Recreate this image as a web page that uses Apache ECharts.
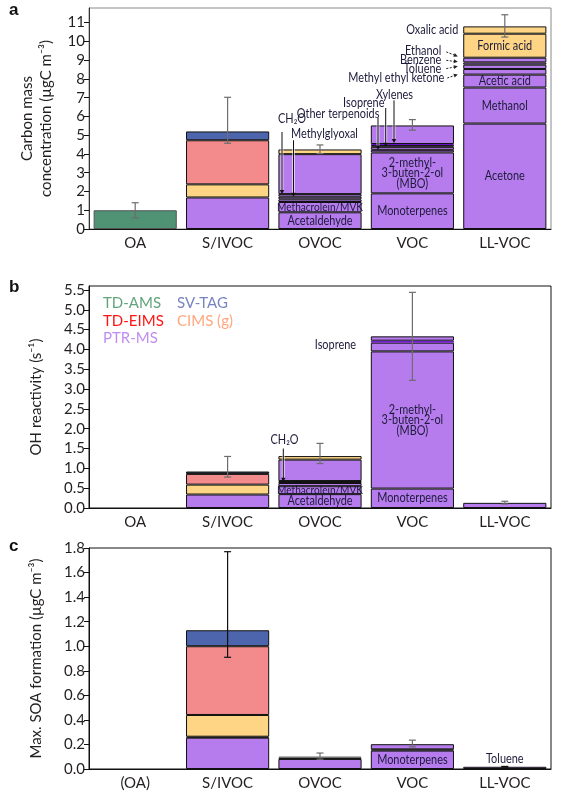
<!DOCTYPE html>
<html><head><meta charset="utf-8">
<script src="https://cdn.jsdelivr.net/npm/echarts@6/dist/echarts.min.js"></script>
<style>html,body{margin:0;padding:0;background:#fff}#c{width:561px;height:796px}</style>
</head><body><div id="c"></div>
<script>
// ---------- categories & ticks ----------
const categories  = ['OA','S/IVOC','OVOC','VOC','LL-VOC'];
const categoriesC = ['(OA)','S/IVOC','OVOC','VOC','LL-VOC'];
const ticksA = [0,1,2,3,4,5,6,7,8,9,10,11];
const ticksB = [0,0.5,1,1.5,2,2.5,3,3.5,4,4.5,5,5.5];
const ticksC = [0,0.2,0.4,0.6,0.8,1.0,1.2,1.4,1.6,1.8];

// ---------- panel a : carbon mass concentration (segment heights, bottom -> top) ----------
const a_OA     = [1.0];
const a_OA_src = ['AMS'];
const a_OA_lbl = [''];
const a_SIVOC     = [1.68, 0.70, 2.35, 0.47];
const a_SIVOC_src = ['PTR','CIMS','EIMS','TAG'];
const a_SIVOC_lbl = ['','','',''];
const a_OVOC     = [0.89, 0.55, 0.14, 0.14, 0.14, 2.13, 0.25];
const a_OVOC_src = ['PTR','PTR','PTR','PTR','PTR','PTR','CIMS'];
const a_OVOC_lbl = ['Acetaldehyde','Methacrolein/MVK','','','','',''];
const a_VOC     = [1.90, 2.18, 0.14, 0.16, 0.10, 0.05, 0.99];
const a_VOC_src = ['PTR','PTR','PTR','PTR','PTR','DARK','PTR'];
const a_VOC_lbl = ['Monoterpenes','2-methyl-\n3-buten-2-ol\n(MBO)','','','','',''];
const a_LLVOC     = [5.62, 1.92, 0.69, 0.30, 0.23, 0.12, 0.25, 1.28, 0.39];
const a_LLVOC_src = ['PTR','PTR','PTR','PTR','PTR','PTR','PTR','CIMS','CIMS'];
const a_LLVOC_lbl = ['Acetone','Methanol','Acetic acid','','','','','Formic acid',''];
const a_errLow  = [0.60, 4.57, 4.02, 5.27, 10.23];
const a_errHigh = [1.40, 7.02, 4.48, 5.83, 11.42];

// ---------- panel b : OH reactivity ----------
const b_OA     = [];
const b_OA_src = [];
const b_OA_lbl = [];
const b_SIVOC     = [0.34, 0.25, 0.27, 0.06];
const b_SIVOC_src = ['PTR','CIMS','EIMS','TAGD'];
const b_SIVOC_lbl = ['','','',''];
const b_OVOC     = [0.35, 0.20, 0.08, 0.05, 0.54, 0.09];
const b_OVOC_src = ['PTR','PTR','PTR','BLK','PTR','CIMS'];
const b_OVOC_lbl = ['Acetaldehyde','Methacrolein/MVK','','','',''];
const b_VOC     = [0.49, 3.46, 0.22, 0.05, 0.11];
const b_VOC_src = ['PTR','PTR','PTR','DARK','PTR'];
const b_VOC_lbl = ['Monoterpenes','2-methyl-\n3-buten-2-ol\n(MBO)','','',''];
const b_LLVOC     = [0.13];
const b_LLVOC_src = ['PTR'];
const b_LLVOC_lbl = [''];
const b_errLow  = [null, 0.78, 1.12, 3.22, 0.10];
const b_errHigh = [null, 1.30, 1.63, 5.44, 0.17];

// ---------- panel c : max SOA formation ----------
const c_OA     = [];
const c_OA_src = [];
const c_OA_lbl = [];
const c_SIVOC     = [0.255, 0.008, 0.177, 0.56, 0.13];
const c_SIVOC_src = ['PTR','BLK','CIMS','EIMS','TAG'];
const c_SIVOC_lbl = ['','','','',''];
const c_OVOC     = [0.082, 0.010, 0.008];
const c_OVOC_src = ['PTR','CIMS','GRAY'];
const c_OVOC_lbl = ['','',''];
const c_VOC     = [0.150, 0.010, 0.042];
const c_VOC_src = ['PTR','BLK','PTR'];
const c_VOC_lbl = ['Monoterpenes','',''];
const c_LLVOC     = [0.018];
const c_LLVOC_src = ['PTR'];
const c_LLVOC_lbl = [''];
const c_errLow  = [null, 0.91, 0.08, 0.18, 0.016];
const c_errHigh = [null, 1.77, 0.13, 0.235, 0.021];

// ---------- styling ----------
const FONT = 'Lato';
const TXT = '#231f20';
const LBL = '#1d1b3a';
const NARROW = 0.84;   // horizontal condensing of annotation text
const COLORS = {AMS:'#4f9374', TAG:'#4c65ac', TAGD:'#3a3f55', EIMS:'#f38b8d', CIMS:'#fdd585', PTR:'#b67cee',
                DARK:'#7a1ad6', BLK:'#111111', GRAY:'#6f6f6f'};
const BORDER = {AMS:'#555', DARK:'#6a10c8', GRAY:'#6f6f6f'};

const panels = [
  {vals:[a_OA,a_SIVOC,a_OVOC,a_VOC,a_LLVOC], src:[a_OA_src,a_SIVOC_src,a_OVOC_src,a_VOC_src,a_LLVOC_src],
   lbl:[a_OA_lbl,a_SIVOC_lbl,a_OVOC_lbl,a_VOC_lbl,a_LLVOC_lbl], lo:a_errLow, hi:a_errHigh,
   errColor:['#6d6d6d','#6d6d6d','#6d6d6d','#6d6d6d','#6d6d6d']},
  {vals:[b_OA,b_SIVOC,b_OVOC,b_VOC,b_LLVOC], src:[b_OA_src,b_SIVOC_src,b_OVOC_src,b_VOC_src,b_LLVOC_src],
   lbl:[b_OA_lbl,b_SIVOC_lbl,b_OVOC_lbl,b_VOC_lbl,b_LLVOC_lbl], lo:b_errLow, hi:b_errHigh,
   errColor:['#6d6d6d','#6d6d6d','#6d6d6d','#6d6d6d','#6d6d6d']},
  {vals:[c_OA,c_SIVOC,c_OVOC,c_VOC,c_LLVOC], src:[c_OA_src,c_SIVOC_src,c_OVOC_src,c_VOC_src,c_LLVOC_src],
   lbl:[c_OA_lbl,c_SIVOC_lbl,c_OVOC_lbl,c_VOC_lbl,c_LLVOC_lbl], lo:c_errLow, hi:c_errHigh,
   errColor:['#111','#111','#6d6d6d','#6d6d6d','#111']}
];

// annotations (text anchored to data values; dx = pixel offset from category centre)
const annA = [
  {cat:2, y:5.85, dx:-42, align:'left',  text:'CH₂O', from:5.17, tip:1.86, adx:-38},
  {cat:2, y:5.10, dx:-29, align:'left',  text:'Methylglyoxal', from:4.73, tip:1.72, adx:-26.5},
  {cat:3, y:6.15, dx:-33, align:'right', text:'Other terpenoids', from:5.94, tip:4.22, adx:-34.4},
  {cat:3, y:6.72, dx:-28, align:'right', text:'Isoprene', from:6.45, tip:4.38, adx:-26.7},
  {cat:3, y:7.16, dx:-36.5, align:'left', text:'Xylenes', from:6.86, tip:4.59, adx:-18.4},
  {cat:4, y:10.64, dx:-46.5, align:'right', text:'Oxalic acid'},
  {cat:4, y:9.48, dx:-63.5, align:'right', text:'Ethanol', dash:[-58.5,9.44,-47,9.20]},
  {cat:4, y:9.03, dx:-63.5, align:'right', text:'Benzene', dash:[-58.5,8.99,-47,8.91]},
  {cat:4, y:8.56, dx:-63.5, align:'right', text:'Toluene', dash:[-58.5,8.55,-47,8.67]},
  {cat:4, y:8.07, dx:-60.5, align:'right', text:'Methyl ethyl ketone', dash:[-57.5,8.05,-47,8.24]}
];
const annB = [
  {cat:2, y:1.71, dx:-49.5, align:'left', text:'CH₂O', from:1.50, tip:0.66, adx:-36.7},
  {cat:3, y:4.11, dx:-77, align:'center', text:'Isoprene'}
];
const annC = [
  {cat:4, y:0.082, dx:0, align:'center', text:'Toluene'}
];
const anns = [annA, annB, annC];

// in-bar labels: centred on their segment (computed from the segment values)
panels.forEach((P, p) => {
  P.vals.forEach((v, i) => {
    let base = 0;
    v.forEach((h, k) => {
      const t = P.lbl[i][k];
      if (t) anns[p].push({cat:i, y: base + h/2, dx:0, align:'center', text:t,
                           size: t === 'Methacrolein/MVK' ? 12 : 13, lh:10.5});
      base += h;
    });
  });
});

// ---------- grids & axes ----------
const grids = [
  {left:89, right:10, top:8,   height:221, show:true, borderColor:'#8a8a8a', borderWidth:1},
  {left:89, right:10, top:286, height:222, show:true, borderColor:'#111', borderWidth:1},
  {left:89, right:10, top:548, height:221, show:true, borderColor:'#111', borderWidth:1}
];
const yMax = [11.78, 5.6, 1.8];
const yTicks = [ticksA, ticksB, ticksC];
const yNames = ['Carbon mass\nconcentration (µgC m⁻³)', 'OH reactivity (s⁻¹)', 'Max. SOA formation (µgC m⁻³)'];
const yGaps = [33, 43, 43];
const yFmt = [v=>String(v), v=>v.toFixed(1), v=>v.toFixed(1)];

const xAxes = [0,1,2].map(p => ({
  type:'category', gridIndex:p, data: p===2 ? categoriesC : categories,
  axisLine:{show:true, lineStyle:{color:'#111', width:1}}, axisTick:{show:false},
  axisLabel:{color:TXT, fontFamily:FONT, fontSize:15, margin:7}
}));
const yAxes = [0,1,2].map(p => ({
  type:'value', gridIndex:p, min:0, max:yMax[p],
  name:yNames[p], nameLocation:'middle', nameGap:yGaps[p], nameRotate:90,
  nameTextStyle:{color:TXT, fontFamily:FONT, fontSize:15, lineHeight:19},
  splitLine:{show:false},
  axisLine:{show:true, lineStyle:{color: p===0 ? '#333' : '#111', width:1}},
  axisTick:{show:true, length:5, lineStyle:{color:'#111'}, customValues:yTicks[p]},
  axisLabel:{color:TXT, fontFamily:FONT, fontSize:15, margin:4, customValues:yTicks[p], formatter:yFmt[p]}
}));

// ---------- series ----------
const series = [];
panels.forEach((P, p) => {
  const K = Math.max(...P.vals.map(v => v.length));
  for (let k = 0; k < K; k++) {
    series.push({
      type:'bar', xAxisIndex:p, yAxisIndex:p, stack:'s'+p, barWidth:'90%',
      animation:false,
      data: P.vals.map((v, i) => {
        if (k >= v.length) return '-';
        const src = P.src[i][k];
        return {
          value: v[k],
          itemStyle:{color:COLORS[src], borderColor: BORDER[src] || '#111', borderWidth:1}
        };
      })
    });
  }
  // error bars
  series.push({
    type:'custom', xAxisIndex:p, yAxisIndex:p, z:5, animation:false, silent:true,
    data: P.lo.map((l, i) => l == null ? null : [i, l, P.hi[i]]).filter(d => d),
    renderItem(params, api) {
      const i = api.value(0);
      const a = api.coord([i, api.value(1)]), b = api.coord([i, api.value(2)]);
      const col = P.errColor[i];
      const st = {stroke:col, lineWidth:1.2};
      return {type:'group', children:[
        {type:'line', shape:{x1:a[0], y1:a[1], x2:b[0], y2:b[1]}, style:st},
        {type:'line', shape:{x1:a[0]-3.5, y1:a[1], x2:a[0]+3.5, y2:a[1]}, style:st},
        {type:'line', shape:{x1:b[0]-3.5, y1:b[1], x2:b[0]+3.5, y2:b[1]}, style:st}
      ]};
    }
  });
  // annotations & segment labels
  const list = anns[p];
  series.push({
    type:'custom', xAxisIndex:p, yAxisIndex:p, z:10, animation:false, silent:true, clip:false,
    data: list.map(a => [a.cat, a.y]),
    renderItem(params, api) {
      const a = list[params.dataIndex];
      const c = api.coord([a.cat, a.y]);
      const ch = [{type:'text', x:c[0] + a.dx, y:c[1], scaleX:NARROW,
        style:{text:a.text, fill:LBL, fontFamily:FONT, fontSize:a.size || 13, lineHeight:a.lh || 14,
               align:a.align, verticalAlign:'middle'}}];
      if (a.tip != null) {
        const t = api.coord([a.cat, a.from]), e = api.coord([a.cat, a.tip]);
        const x = t[0] + a.adx;
        ch.push({type:'line', shape:{x1:x, y1:t[1], x2:x, y2:e[1]-3}, style:{stroke:'#fff', lineWidth:3, opacity:0.6}});
        ch.push({type:'line', shape:{x1:x, y1:t[1], x2:x, y2:e[1]-3}, style:{stroke:'#111', lineWidth:1}});
        ch.push({type:'polygon', shape:{points:[[x-2.2, e[1]-4], [x+2.2, e[1]-4], [x, e[1]]]}, style:{fill:'#111'}});
      }
      if (a.dash) {
        const s = api.coord([a.cat, a.dash[1]]), e = api.coord([a.cat, a.dash[3]]);
        const x1 = c[0] + a.dash[0], x2 = c[0] + a.dash[2];
        const y1 = s[1], y2 = e[1];
        const ang = Math.atan2(y2 - y1, x2 - x1);
        const L = 4, W = 2;
        const bx = x2 - L*Math.cos(ang), by = y2 - L*Math.sin(ang);
        ch.push({type:'line', shape:{x1, y1, x2:bx, y2:by}, style:{stroke:'#222', lineWidth:1, lineDash:[2,1.5]}});
        ch.push({type:'polygon', shape:{points:[[x2, y2],
          [bx - W*Math.sin(ang), by + W*Math.cos(ang)], [bx + W*Math.sin(ang), by - W*Math.cos(ang)]]}, style:{fill:'#222'}});
      }
      return {type:'group', children:ch};
    }
  });
});

// ---------- legend texts (panel b) & panel letters ----------
const legendItems = [
  {t:'TD-AMS', c:'#62a57c', x:103, y:305},
  {t:'SV-TAG', c:'#7883c2', x:177, y:305},
  {t:'TD-EIMS', c:'#ff1414', x:103, y:322.5},
  {t:'CIMS (g)', c:'#ffa67e', x:177, y:322.5},
  {t:'PTR-MS', c:'#c08df2', x:103, y:339.5}
];
const graphic = legendItems.map(g => ({type:'text', left:g.x, top:g.y - 9,
  style:{text:g.t, fill:g.c, fontFamily:FONT, fontSize:15}}));
[['a',2],['b',279],['c',538]].forEach(([t,y]) => graphic.push({type:'text', left:9, top:y,
  style:{text:t, fill:'#111', fontFamily:'Liberation Sans', fontWeight:'bold', fontSize:17}}));

const chart = echarts.init(document.getElementById('c'), null, {renderer:'canvas'});
chart.setOption({
  animation:false,
  grid:grids, xAxis:xAxes, yAxis:yAxes, series, graphic
});
</script>
</body></html>
